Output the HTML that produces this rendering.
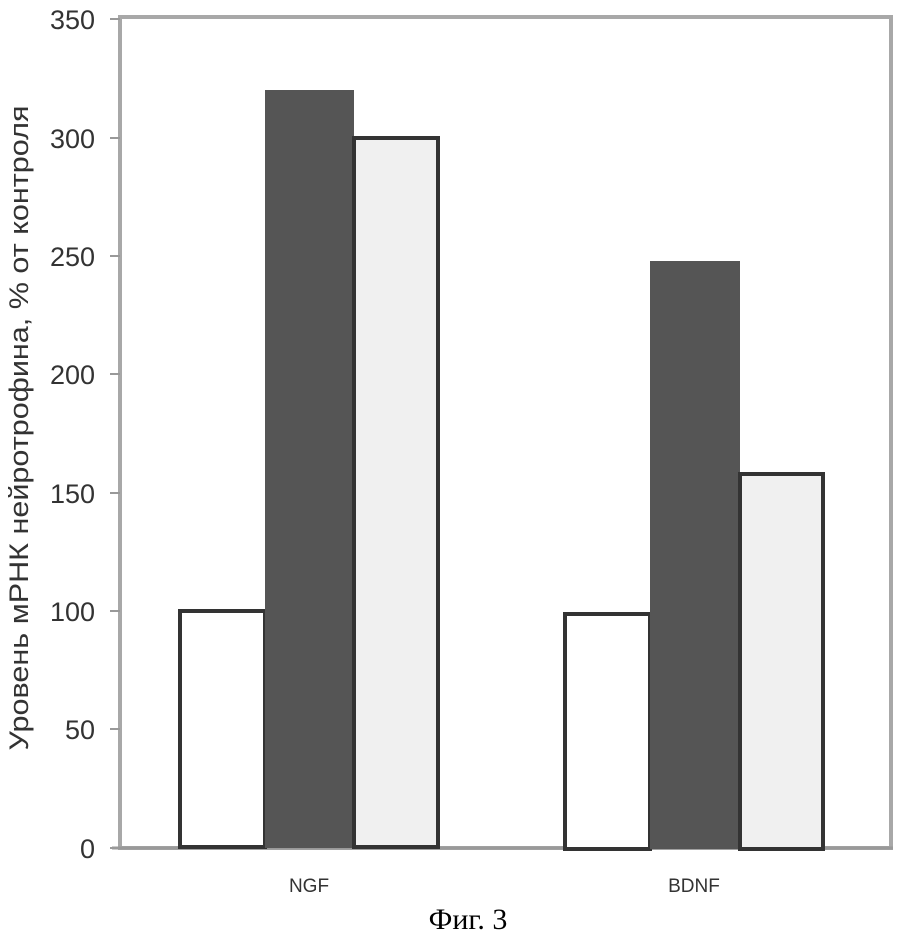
<!DOCTYPE html>
<html><head><meta charset="utf-8"><style>
html,body{margin:0;padding:0;background:#fff;}
svg{display:block}
</style></head><body>
<svg width="898" height="936" xmlns="http://www.w3.org/2000/svg">
<rect width="898" height="936" fill="#fff"/>
<rect x="120" y="17" width="771" height="831" fill="none" stroke="#a8a8a8" stroke-width="4"/>
<line x1="112" y1="848" x2="893" y2="848" stroke="#999" stroke-width="3"/>
<g stroke="#999" stroke-width="2">
<line x1="110" y1="848" x2="120" y2="848"/>
<line x1="110" y1="729" x2="120" y2="729"/>
<line x1="110" y1="611" x2="120" y2="611"/>
<line x1="110" y1="493" x2="120" y2="493"/>
<line x1="110" y1="374" x2="120" y2="374"/>
<line x1="110" y1="256" x2="120" y2="256"/>
<line x1="110" y1="138" x2="120" y2="138"/>
<line x1="110" y1="19" x2="120" y2="19"/>
</g>
<g font-family="Liberation Sans, sans-serif" font-size="27" fill="#333" text-anchor="end">
<text x="95" y="858">0</text>
<text x="95" y="739">50</text>
<text x="95" y="621">100</text>
<text x="95" y="503">150</text>
<text x="95" y="384">200</text>
<text x="95" y="266">250</text>
<text x="95" y="148">300</text>
<text x="95" y="29">350</text>
</g>
<text transform="translate(28,428) rotate(-90)" font-family="Liberation Sans, sans-serif" font-size="27" fill="#333" text-anchor="middle" textLength="645" lengthAdjust="spacingAndGlyphs">Уровень мРНК нейротрофина, % от контроля</text>
<rect x="180" y="611" width="85" height="236" fill="#fff" stroke="#333" stroke-width="4"/>
<rect x="265" y="90" width="89" height="758" fill="#555"/>
<rect x="354" y="138" width="84" height="709" fill="#f0f0f0" stroke="#333" stroke-width="4"/>
<rect x="565" y="614" width="85" height="235" fill="#fff" stroke="#333" stroke-width="4"/>
<rect x="650" y="261" width="90" height="588" fill="#555"/>
<rect x="740" y="474" width="83" height="375" fill="#f0f0f0" stroke="#333" stroke-width="4"/>
<g font-family="Liberation Sans, sans-serif" font-size="19" fill="#333" text-anchor="middle">
<text x="309" y="892">NGF</text>
<text x="694" y="892">BDNF</text>
</g>
<text x="468" y="929" font-family="Liberation Serif, serif" font-size="30" fill="#000" text-anchor="middle">Фиг. 3</text>
</svg>
</body></html>
